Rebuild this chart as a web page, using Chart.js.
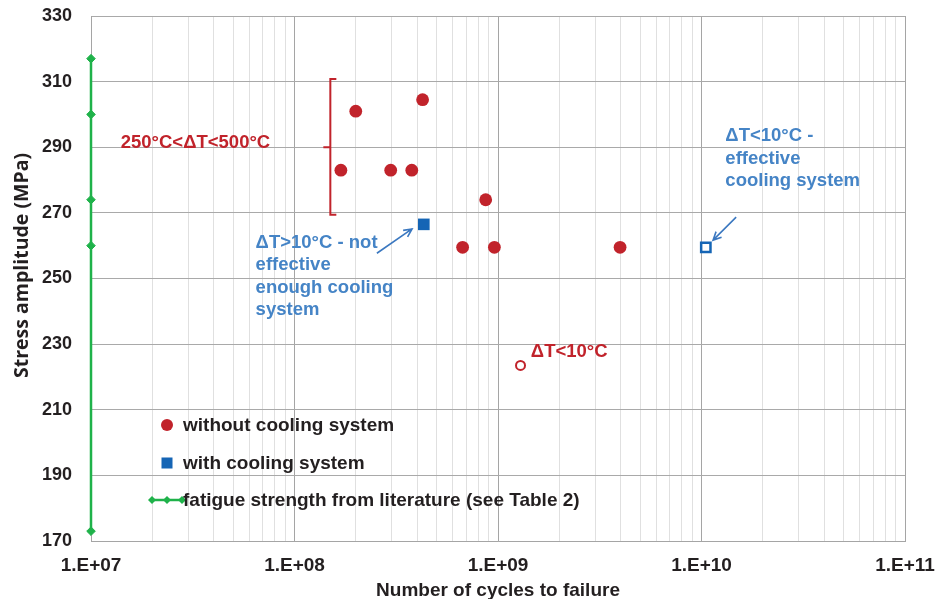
<!DOCTYPE html>
<html>
<head>
<meta charset="utf-8">
<script src="https://cdn.jsdelivr.net/npm/chart.js@4.4.1/dist/chart.umd.min.js"></script>
<style>
  html, body { margin: 0; padding: 0; background: #fff; }
  #wrap { width: 938px; height: 599px; }
</style>
</head>
<body>
<div id="wrap"><canvas id="chart"></canvas></div>
<script>
// --- values ---
const xDecades = [1e7, 1e8, 1e9, 1e10, 1e11];
const xTickLabels = ['1.E+07', '1.E+08', '1.E+09', '1.E+10', '1.E+11'];
const yTicks = [170, 190, 210, 230, 250, 270, 290, 310, 330];

// without cooling system (the last one is the open circle, ΔT<10°C)
const noCoolCycles = [1.69e8, 2.0e8, 2.97e8, 3.77e8, 4.26e8, 8.7e8, 6.7e8, 9.6e8, 3.98e9, 1.29e9];
const noCoolStress = [283, 301, 283, 283, 304.5, 274, 259.5, 259.5, 259.5, 223.5];
const noCoolHollow = [false, false, false, false, false, false, false, false, false, true];

// with cooling system (second one open, ΔT<10°C)
const coolCycles = [4.32e8, 1.05e10];
const coolStress = [266.5, 259.5];
const coolHollow = [false, true];

// fatigue strength from literature
const litCycles = [1e7, 1e7, 1e7, 1e7, 1e7];
const litStress = [173, 260, 274, 300, 317];

const RED = '#c1232b';
const BLUE = '#1565b5';
const BLUE_TXT = '#4584c6';
const GREEN = '#1fb24a';
const INK = '#231f20';
const FONT = '"Liberation Sans", Arial, Helvetica, sans-serif';

const toPoints = (xs, ys) => xs.map((x, i) => ({ x: x, y: ys[i] }));

// --- annotations / legend / y title drawn on top ---
const overlayPlugin = {
    id: 'overlay',
    afterDatasetsDraw(chart) {
        const ctx = chart.ctx;
        const xs = chart.scales.x;
        const ys = chart.scales.y;
        const px = v => xs.getPixelForValue(v);
        const py = v => ys.getPixelForValue(v);
        const area = chart.chartArea;

        ctx.save();

        // bracket
        ctx.strokeStyle = RED;
        ctx.lineWidth = 2;
        const bx = px(1.5e8), bTop = py(310.8), bBot = py(269.4), bMid = py(290);
        ctx.beginPath();
        ctx.moveTo(bx + 6, bTop);
        ctx.lineTo(bx, bTop);
        ctx.lineTo(bx, bBot);
        ctx.lineTo(bx + 6, bBot);
        ctx.moveTo(bx, bMid);
        ctx.lineTo(bx - 7, bMid);
        ctx.stroke();

        // texts
        const drawLines = (lines, x, y, color, size, gap) => {
            ctx.fillStyle = color;
            ctx.font = 'bold ' + size + 'px ' + FONT;
            ctx.textAlign = 'left';
            ctx.textBaseline = 'middle';
            lines.forEach((t, i) => ctx.fillText(t, x, y + i * gap));
        };
        drawLines(['250°C<ΔT<500°C'], px(1.4e7), py(291.3), RED, 18.5, 0);
        drawLines(['ΔT<10°C'], px(1.45e9), py(227.6), RED, 18.5, 0);
        drawLines(['ΔT>10°C - not', 'effective', 'enough cooling', 'system'],
            px(6.44e7), py(260.8), BLUE_TXT, 18.5, 22.2);
        drawLines(['ΔT<10°C -', 'effective', 'cooling system'],
            px(1.31e10), py(293.4), BLUE_TXT, 18.5, 22.5);

        // arrows
        const arrow = (x0, y0, x1, y1) => {
            const a = Math.atan2(y1 - y0, x1 - x0);
            const h = 9;
            ctx.strokeStyle = '#3b78c0';
            ctx.lineWidth = 1.6;
            ctx.beginPath();
            ctx.moveTo(x0, y0);
            ctx.lineTo(x1, y1);
            ctx.moveTo(x1 - h * Math.cos(a - 0.45), y1 - h * Math.sin(a - 0.45));
            ctx.lineTo(x1, y1);
            ctx.lineTo(x1 - h * Math.cos(a + 0.45), y1 - h * Math.sin(a + 0.45));
            ctx.stroke();
        };
        arrow(px(2.54e8), py(257.7), px(3.78e8), py(265.1));
        arrow(px(1.48e10), py(268.7), px(1.14e10), py(261.7));

        // legend
        const ds = chart.data.datasets;
        const mx = area.left + 76;
        const tx = area.left + 92;
        const rows = [area.top + 409, area.top + 447, area.top + 484];
        ctx.font = 'bold 19px ' + FONT;
        ctx.textBaseline = 'middle';
        ctx.textAlign = 'left';

        ctx.fillStyle = RED;
        ctx.beginPath();
        ctx.arc(mx, rows[0], 6, 0, Math.PI * 2);
        ctx.fill();

        ctx.fillStyle = BLUE;
        ctx.fillRect(mx - 5.5, rows[1] - 5.5, 11, 11);

        ctx.strokeStyle = GREEN;
        ctx.lineWidth = 2.5;
        ctx.beginPath();
        ctx.moveTo(mx - 15, rows[2]);
        ctx.lineTo(mx + 15, rows[2]);
        ctx.stroke();
        ctx.fillStyle = GREEN;
        [mx - 15, mx, mx + 15].forEach(dx => {
            ctx.beginPath();
            ctx.moveTo(dx - 4, rows[2]);
            ctx.lineTo(dx, rows[2] - 4);
            ctx.lineTo(dx + 4, rows[2]);
            ctx.lineTo(dx, rows[2] + 4);
            ctx.closePath();
            ctx.fill();
        });

        ctx.fillStyle = INK;
        ds.forEach((d, i) => ctx.fillText(d.label, tx, rows[i] + 1));

        // y axis title
        ctx.translate(22, 265.5);
        ctx.rotate(-Math.PI / 2);
        ctx.font = 'bold 19.5px "Open Sans", ' + FONT;
        ctx.textAlign = 'center';
        ctx.fillText('Stress amplitude (MPa)', 0, 0);

        ctx.restore();
    }
};

new Chart(document.getElementById('chart'), {
    type: 'scatter',
    data: {
        datasets: [
            {
                label: 'without cooling system',
                data: toPoints(noCoolCycles, noCoolStress),
                pointStyle: 'circle',
                pointRadius: noCoolHollow.map(h => h ? 4.5 : 6.4),
                pointBackgroundColor: noCoolHollow.map(h => h ? '#ffffff' : RED),
                pointBorderColor: RED,
                pointBorderWidth: noCoolHollow.map(h => h ? 2 : 0),
                clip: false,
                order: 2
            },
            {
                label: 'with cooling system',
                data: toPoints(coolCycles, coolStress),
                pointStyle: 'rect',
                pointRadius: coolHollow.map(h => h ? 6.6 : 8.2),
                pointBackgroundColor: coolHollow.map(h => h ? '#ffffff' : BLUE),
                pointBorderColor: BLUE,
                pointBorderWidth: coolHollow.map(h => h ? 2.5 : 0),
                clip: false,
                order: 2
            },
            {
                label: 'fatigue strength from literature (see Table 2)',
                data: toPoints(litCycles, litStress),
                showLine: true,
                borderColor: GREEN,
                borderWidth: 2.5,
                pointStyle: 'rectRot',
                pointRadius: 4.3,
                pointBackgroundColor: GREEN,
                pointBorderColor: GREEN,
                pointBorderWidth: 1,
                clip: false,
                order: 1
            }
        ]
    },
    options: {
        responsive: true,
        maintainAspectRatio: false,
        animation: false,
        layout: { padding: { top: 16, right: 33, bottom: 0, left: 0 } },
        plugins: {
            legend: { display: false },
            tooltip: { enabled: false }
        },
        scales: {
            x: {
                type: 'logarithmic',
                min: 1e7,
                max: 1e11,
                afterBuildTicks: scale => {
                    const ticks = [];
                    xDecades.forEach((d, i) => {
                        ticks.push({ value: d, major: true });
                        if (i < xDecades.length - 1) {
                            for (let m = 2; m <= 9; m++) ticks.push({ value: d * m, major: false });
                        }
                    });
                    scale.ticks = ticks;
                },
                afterFit: scale => {
                    scale.height = 58;
                    scale.paddingLeft = 0;
                    scale.paddingRight = 0;
                },
                grid: {
                    drawTicks: false,
                    color: c => (c.tick && xDecades.includes(c.tick.value)) ? '#a5a5a5' : '#e0e0e0',
                    lineWidth: 1
                },
                border: { color: '#a5a5a5' },
                ticks: {
                    autoSkip: false,
                    maxRotation: 0,
                    padding: 13,
                    color: INK,
                    font: { family: FONT, size: 19, weight: 'bold' },
                    callback: v => {
                        const i = xDecades.indexOf(v);
                        return i >= 0 ? xTickLabels[i] : '';
                    }
                },
                title: {
                    display: true,
                    text: 'Number of cycles to failure',
                    color: INK,
                    font: { family: FONT, size: 19, weight: 'bold', lineHeight: 0.85 },
                    padding: 0
                }
            },
            y: {
                min: 170,
                max: 330,
                afterBuildTicks: scale => {
                    scale.ticks = yTicks.map(v => ({ value: v }));
                },
                afterFit: scale => {
                    scale.width = 91;
                    scale.paddingTop = 0;
                    scale.paddingBottom = 0;
                },
                grid: { drawTicks: false, color: '#a9a9a9', lineWidth: 1 },
                border: { color: '#a5a5a5' },
                ticks: {
                    padding: 19,
                    color: INK,
                    font: { family: FONT, size: 18, weight: 'bold' }
                }
            }
        }
    },
    plugins: [overlayPlugin]
});
</script>
</body>
</html>
